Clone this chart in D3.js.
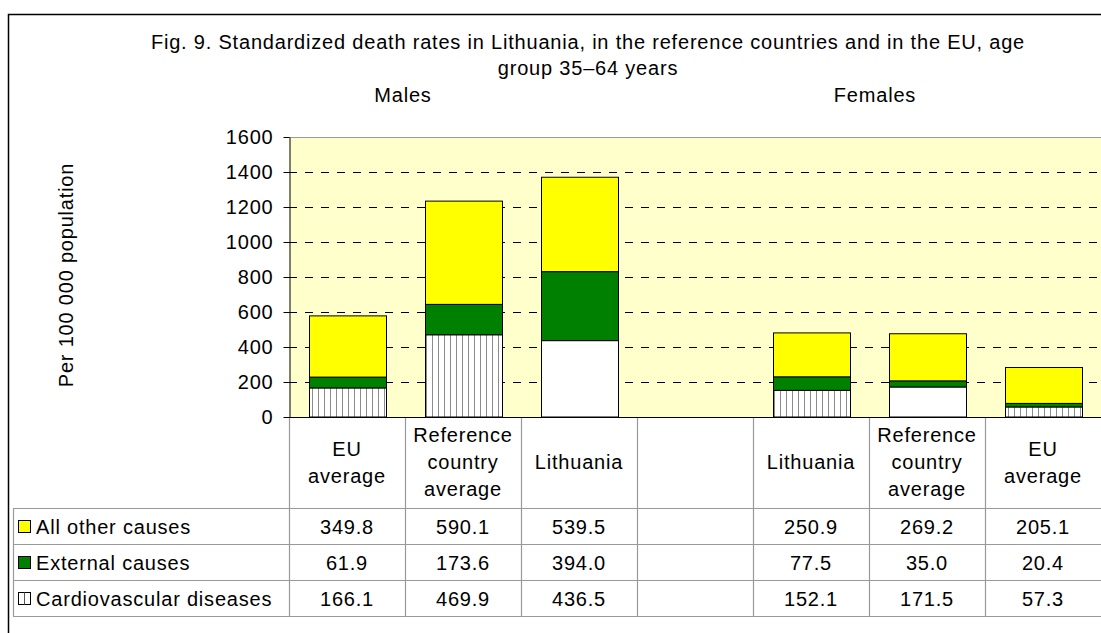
<!DOCTYPE html>
<html>
<head>
<meta charset="utf-8">
<script src="https://cdn.jsdelivr.net/npm/d3@7"></script>
<style>
  body { margin: 0; background: #fff; }
  svg { display: block; font-family: "Liberation Sans", Arial, sans-serif; }
  svg text { font-size: 20px; letter-spacing: 0.8px; fill: #000; }
</style>
</head>
<body>
<div id="chart"></div>
<script>
// categories (one empty slot separates males and females)
const categories = ["m_eu", "m_ref", "m_lt", "gap", "f_lt", "f_ref", "f_eu"];
const categoryLabels = [
    ["EU", "average"],
    ["Reference", "country", "average"],
    ["Lithuania"],
    [],
    ["Lithuania"],
    ["Reference", "country", "average"],
    ["EU", "average"]
];
const seriesNames = ["All other causes", "External causes", "Cardiovascular diseases"];
const cardioValues = [166.1, 469.9, 436.5, null, 152.1, 171.5, 57.3];
const externalValues = [61.9, 173.6, 394.0, null, 77.5, 35.0, 20.4];
const otherValues = [349.8, 590.1, 539.5, null, 250.9, 269.2, 205.1];
const yTicks = [0, 200, 400, 600, 800, 1000, 1200, 1400, 1600];
// in the original some cardiovascular segments render without stripes
const plainCardio = ["m_lt", "f_ref"];

const width = 1101, height = 633;
const svg = d3.select("#chart").append("svg")
    .attr("width", width)
    .attr("height", height);

// hatch pattern for cardiovascular segments
const defs = svg.append("defs");
const pat = defs.append("pattern")
    .attr("id", "stripes")
    .attr("patternUnits", "userSpaceOnUse")
    .attr("width", 6)
    .attr("height", 10);
pat.append("rect").attr("width", 6).attr("height", 10).attr("fill", "#fff");
pat.append("line").attr("x1", 0.5).attr("x2", 0.5).attr("y1", 0).attr("y2", 10)
    .attr("stroke", "#8c8c8c").attr("stroke-width", 1);

// outer frame
svg.append("path")
    .attr("d", "M8.5,633 V14.5 H1101")
    .attr("fill", "none").attr("stroke", "#000").attr("stroke-width", 1.5);

const plotLeft = 289, plotRight = 1101, plotTop = 137, plotBottom = 417;

const x = d3.scaleBand().domain(categories).range([plotLeft, plotRight]).paddingInner(0.34).paddingOuter(0.17);
const xCol = d3.scaleBand().domain(categories).range([plotLeft, plotRight]);
const y = d3.scaleLinear().domain([0, 1600]).range([plotBottom, plotTop]);

// plot background
svg.append("rect")
    .attr("x", plotLeft).attr("y", plotTop)
    .attr("width", plotRight - plotLeft).attr("height", plotBottom - plotTop)
    .attr("fill", "#ffffcc");
svg.append("line")
    .attr("x1", plotLeft).attr("x2", plotRight)
    .attr("y1", plotTop + 0.5).attr("y2", plotTop + 0.5)
    .attr("stroke", "#999");

// gridlines
svg.append("g").selectAll("line")
    .data(yTicks.filter(t => t > 0 && t < 1600))
    .enter().append("line")
    .attr("x1", plotLeft).attr("x2", plotRight)
    .attr("y1", d => Math.round(y(d)) + 0.5).attr("y2", d => Math.round(y(d)) + 0.5)
    .attr("stroke", "#000")
    .attr("stroke-dasharray", "8,8");

// stacked bars
const rows = categories.map((c, i) => ({
    key: c,
    cardio: cardioValues[i],
    external: externalValues[i],
    other: otherValues[i]
})).filter(d => d.cardio !== null);

const stack = d3.stack().keys(["cardio", "external", "other"]);
const layers = stack(rows);
const fills = {
    cardio: d => plainCardio.includes(d.data.key) ? "#fff" : "url(#stripes)",
    external: () => "#008000",
    other: () => "#ffff00"
};

svg.append("g").selectAll("g")
    .data(layers)
    .enter().append("g")
    .each(function(layer) {
        d3.select(this).selectAll("rect")
            .data(layer)
            .enter().append("rect")
            .attr("x", d => Math.round(x(d.data.key)) + 0.5)
            .attr("y", d => y(d[1]))
            .attr("width", Math.round(x.bandwidth()))
            .attr("height", d => y(d[0]) - y(d[1]))
            .attr("fill", fills[layer.key])
            .attr("stroke", "#000")
            .attr("stroke-width", 1);
    });

// y axis
const yAxis = svg.append("g")
    .attr("transform", `translate(${plotLeft + 0.5},0)`)
    .call(d3.axisLeft(y).tickValues(yTicks).tickFormat(d3.format("d"))
        .tickSize(6).tickSizeOuter(0).tickPadding(10));
yAxis.selectAll("text").style("font-size", "20px").attr("fill", "#000");
yAxis.select(".domain").attr("stroke", "#000");
yAxis.selectAll(".tick line").attr("stroke", "#000");

// x baseline
svg.append("line")
    .attr("x1", plotLeft).attr("x2", plotRight)
    .attr("y1", plotBottom + 0.5).attr("y2", plotBottom + 0.5)
    .attr("stroke", "#000");

// data table
const tableLeft = 13;
const rowLines = [508, 544, 580, 616];
const grid = svg.append("g").attr("stroke", "#999").attr("stroke-width", 1.2);
grid.selectAll(".h").data(rowLines).enter().append("line")
    .attr("x1", tableLeft).attr("x2", plotRight)
    .attr("y1", d => d + 0.5).attr("y2", d => d + 0.5);
grid.append("line")
    .attr("x1", tableLeft + 0.5).attr("x2", tableLeft + 0.5)
    .attr("y1", rowLines[0]).attr("y2", rowLines[3]);
grid.selectAll(".v").data(categories).enter().append("line")
    .attr("x1", d => Math.round(xCol(d)) + 0.5).attr("x2", d => Math.round(xCol(d)) + 0.5)
    .attr("y1", plotBottom + 1).attr("y2", rowLines[3]);

// column headers
svg.append("g").selectAll("text")
    .data(categories)
    .enter().append("text")
    .attr("text-anchor", "middle")
    .each(function(d, i) {
        const lines = categoryLabels[i];
        const cy = 462 - (lines.length - 1) * 27 / 2;
        d3.select(this).selectAll("tspan")
            .data(lines)
            .enter().append("tspan")
            .attr("x", xCol(d) + xCol.bandwidth() / 2)
            .attr("y", (t, j) => cy + j * 27)
            .attr("dy", "0.35em")
            .text(t => t);
    });

// table rows: legend key + values
const tableSeries = [
    { name: seriesNames[0], values: otherValues, fill: "#ffff00" },
    { name: seriesNames[1], values: externalValues, fill: "#008000" },
    { name: seriesNames[2], values: cardioValues, fill: "stripe" }
];
tableSeries.forEach((s, r) => {
    const cy = (rowLines[r] + rowLines[r + 1]) / 2 + 1;
    const g = svg.append("g");
    if (s.fill === "stripe") {
        g.append("rect").attr("x", 18.5).attr("y", cy - 6.5).attr("width", 12).attr("height", 12)
            .attr("fill", "#fff").attr("stroke", "#000");
        g.append("line").attr("x1", 24.5).attr("x2", 24.5).attr("y1", cy - 6.5).attr("y2", cy + 5.5)
            .attr("stroke", "#555");
    } else {
        g.append("rect").attr("x", 18.5).attr("y", cy - 6.5).attr("width", 12).attr("height", 12)
            .attr("fill", s.fill).attr("stroke", "#000");
    }
    g.append("text")
        .attr("x", 36).attr("y", cy).attr("dy", "0.35em")
        .text(s.name);
    g.selectAll(".val")
        .data(categories.map((c, i) => ({ c, v: s.values[i] })).filter(d => d.v !== null))
        .enter().append("text")
        .attr("x", d => xCol(d.c) + xCol.bandwidth() / 2)
        .attr("y", cy).attr("dy", "0.35em")
        .attr("text-anchor", "middle")
        .text(d => d.v.toFixed(1));
});

// titles
svg.append("text")
    .attr("x", 588).attr("y", 42).attr("dy", "0.35em")
    .attr("text-anchor", "middle")
    .text("Fig. 9. Standardized death rates in Lithuania, in the reference countries and in the EU, age");
svg.append("text")
    .attr("x", 588).attr("y", 68).attr("dy", "0.35em")
    .attr("text-anchor", "middle")
    .text("group 35–64 years");
svg.append("text")
    .attr("x", 403).attr("y", 95).attr("dy", "0.35em")
    .attr("text-anchor", "middle")
    .text("Males");
svg.append("text")
    .attr("x", 875).attr("y", 95).attr("dy", "0.35em")
    .attr("text-anchor", "middle")
    .text("Females");

// y axis label
svg.append("text")
    .attr("transform", "translate(66,275) rotate(-90)")
    .attr("dy", "0.35em")
    .attr("text-anchor", "middle")
    .text("Per 100 000 population");
</script>
</body>
</html>
